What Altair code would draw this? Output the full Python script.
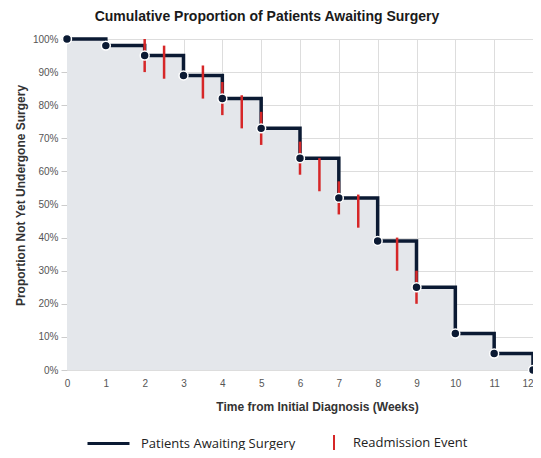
import altair as alt
import pandas as pd

# Step curve data (weeks, proportion not yet undergone surgery in %)
weeks = [0, 1, 2, 3, 4, 5, 6, 7, 8, 9, 10, 11, 12]
proportion = [100, 98, 95, 89, 82, 73, 64, 52, 39, 25, 11, 5, 0]

# Readmission events: week and vertical extent (%)
event_weeks = [2, 2.5, 3.5, 4, 4.5, 5, 6, 6.5, 7, 7.5, 8.5, 9]
event_low = [90, 88, 82, 77, 73, 68, 59, 54, 47, 43, 30, 20]
event_high = [100, 98, 92, 87, 83, 78, 69, 64, 57, 53, 40, 30]

x_ticks = list(range(0, 13))
y_ticks = [i / 10 for i in range(0, 11)]

NAVY = "#0b1a33"
RED = "#d62728"
FILL = "#e4e7eb"

curve = pd.DataFrame({
    "week": weeks,
    "prop": [p / 100 for p in proportion],
    "series": ["Patients Awaiting Surgery"] * len(weeks),
})
events = pd.DataFrame({
    "week": event_weeks,
    "low": [v / 100 for v in event_low],
    "high": [v / 100 for v in event_high],
    "series": ["Readmission Event"] * len(event_weeks),
})

x_enc = alt.X(
    "week:Q",
    scale=alt.Scale(domain=[0, 12], nice=False),
    axis=alt.Axis(
        title="Time from Initial Diagnosis (Weeks)",
        values=x_ticks, tickCount=len(x_ticks), format="d", ticks=False,
        labelPadding=8, labelOverlap=False, labelFlush=False,
        labelAlign=alt.expr("datum.value >= 12 ? 'right' : 'center'"),
        titleX=250, titleY=36, titleBaseline="middle",
    ),
)
y_enc = alt.Y(
    "prop:Q",
    scale=alt.Scale(domain=[0, 1], nice=False),
    axis=alt.Axis(
        title="Proportion Not Yet Undergone Surgery",
        values=y_ticks, tickCount=len(y_ticks), format=".0%", tickSize=6,
        labelPadding=3, labelOverlap=False,
        titleX=-47, titleY=156, titleBaseline="middle",
    ),
)

area = alt.Chart(curve).mark_area(interpolate="step-after", color=FILL).encode(
    x=x_enc, y=y_enc
)

line = alt.Chart(curve).mark_line(interpolate="step-after", strokeWidth=3.5).encode(
    x="week:Q",
    y="prop:Q",
    color=alt.Color(
        "series:N",
        scale=alt.Scale(domain=["Patients Awaiting Surgery"], range=[NAVY]),
        legend=alt.Legend(
            title=None, orient="none", legendX=19, legendY=382, padding=0,
            symbolType="stroke", symbolSize=1764, symbolStrokeWidth=3,
            labelFont="Open Sans", labelFontSize=13, labelColor="#222222",
            labelOffset=10,
        ),
    ),
)

rules = alt.Chart(events).mark_rule(strokeWidth=2.5).encode(
    x="week:Q",
    y="low:Q",
    y2="high:Q",
    color=alt.Color(
        "series:N",
        scale=alt.Scale(domain=["Readmission Event"], range=[RED]),
        legend=alt.Legend(
            title=None, orient="none", legendX=258, legendY=395, padding=0,
            symbolType="M0,-1L0,1", symbolSize=256, symbolStrokeWidth=2,
            labelFont="Open Sans", labelFontSize=13, labelColor="#222222",
            labelOffset=10,
        ),
    ),
)

points = alt.Chart(curve).mark_circle(
    size=80, color=NAVY, opacity=1, stroke="white", strokeWidth=1.5
).encode(x="week:Q", y="prop:Q")

chart = (
    alt.layer(area, line, rules, points)
    .resolve_scale(color="independent")
    .properties(
        width=466,
        height=331,
        autosize=alt.AutoSizeParams(type="none"),
        padding={"left": 59, "top": 31, "right": 0, "bottom": 80},
        title=alt.TitleParams(
            "Cumulative Proportion of Patients Awaiting Surgery",
            anchor="middle", dx=-33, offset=8,
            font="Liberation Sans", fontSize=14, fontWeight="bold", color="#1a1a1a",
        ),
    )
    .configure_view(stroke=None)
    .configure_axis(
        labelFont="Liberation Sans", labelFontSize=10, labelColor="#555555",
        titleFont="Liberation Sans", titleFontSize=12, titleFontWeight="bold",
        titleColor="#333333", gridColor="#dddddd", domain=False, tickColor="#cccccc",
    )
)

chart.save("out.html", embed_options={"renderer": "svg", "actions": False})
